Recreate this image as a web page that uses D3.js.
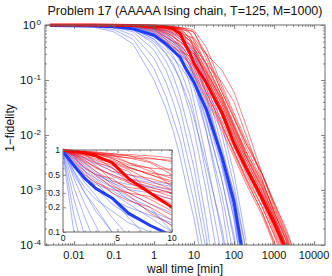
<!DOCTYPE html>
<html>
<head>
<meta charset="utf-8">
<script src="https://cdn.jsdelivr.net/npm/d3@7"></script>
<style>
  body { margin: 0; background: #fff; }
  svg { display: block; font-family: "Liberation Sans", Arial, sans-serif; }
  .axis path, .axis line { stroke: #6a6a6a; }
  .axis text { fill: #111; }
</style>
</head>
<body>
<div id="chart"></div>
<script>
// sample times [min] shared by every run
const times = [0.0025, 0.03, 0.1, 0.3, 1, 2, 3, 4.5, 6, 8, 10, 20, 50, 100, 200, 500, 1000, 2000, 5000];

// 1-fidelity of each run (null = off the chart)
const blueRuns = [
    [1, 0.92, 0.75, 0.45, 0.1, 0.03, 0.012, 0.004, 0.0015, 0.0006, 0.0003, 2e-5, null, null, null, null, null, null, null],
    [1, 0.95, 0.82, 0.55, 0.16, 0.05, 0.02, 0.008, 0.003, 0.0012, 0.0006, 4e-5, null, null, null, null, null, null, null],
    [1, 0.97, 0.88, 0.65, 0.25, 0.09, 0.04, 0.015, 0.006, 0.0025, 0.0012, 8e-5, null, null, null, null, null, null, null],
    [1, 0.98, 0.92, 0.75, 0.35, 0.15, 0.07, 0.03, 0.012, 0.005, 0.0025, 0.00015, 1e-6, null, null, null, null, null, null],
    [1, 0.99, 0.95, 0.82, 0.45, 0.22, 0.12, 0.05, 0.022, 0.01, 0.005, 0.0003, 3e-6, null, null, null, null, null, null],
    [1, 0.99, 0.96, 0.85, 0.55, 0.3, 0.2, 0.1, 0.05, 0.025, 0.012, 0.001, 2e-5, null, null, null, null, null, null],
    [1, 0.99, 0.97, 0.9, 0.62, 0.4, 0.28, 0.15, 0.09, 0.05, 0.025, 0.002, 6e-5, null, null, null, null, null, null],
    [1, 1, 0.98, 0.92, 0.7, 0.5, 0.4, 0.25, 0.15, 0.08, 0.04, 0.004, 0.00015, 5e-6, null, null, null, null, null],
    [1, 1, 0.98, 0.93, 0.72, 0.55, 0.45, 0.35, 0.27, 0.2, 0.1, 0.012, 0.0005, 2e-5, null, null, null, null, null],
    [1, 1, 0.99, 0.95, 0.8, 0.6, 0.5, 0.4, 0.33, 0.3, 0.25, 0.05, 0.003, 0.0003, 1e-5, null, null, null, null],
    [1, 1, 0.99, 0.96, 0.85, 0.7, 0.55, 0.42, 0.38, 0.35, 0.3, 0.06, 0.004, 0.0004, 1.5e-5, null, null, null, null],
    [1, 0.99, 0.97, 0.88, 0.6, 0.45, 0.38, 0.32, 0.25, 0.18, 0.12, 0.025, 0.0025, 0.0003, 1e-5, null, null, null, null],
    [1, 1, 0.99, 0.97, 0.88, 0.75, 0.62, 0.5, 0.42, 0.36, 0.33, 0.08, 0.006, 0.0008, 5e-5, null, null, null, null],
    [1, 1, 0.99, 0.94, 0.75, 0.55, 0.35, 0.25, 0.2, 0.16, 0.13, 0.03, 0.003, 0.0004, 2e-5, null, null, null, null],
    [1, 0.99, 0.96, 0.86, 0.55, 0.35, 0.25, 0.18, 0.13, 0.1, 0.07, 0.012, 0.0008, 6e-5, null, null, null, null, null],
    [1, 1, 0.99, 0.96, 0.82, 0.62, 0.5, 0.35, 0.25, 0.18, 0.14, 0.035, 0.004, 0.0006, 4e-5, null, null, null, null],
    [1, 1, 1, 0.98, 0.9, 0.78, 0.68, 0.55, 0.45, 0.4, 0.36, 0.1, 0.01, 0.0012, 8e-5, null, null, null, null],
    [1, 1, 0.99, 0.97, 0.86, 0.68, 0.52, 0.4, 0.3, 0.22, 0.17, 0.04, 0.005, 0.0009, 8e-5, null, null, null, null],
    [1, 0.98, 0.93, 0.8, 0.5, 0.3, 0.18, 0.1, 0.06, 0.035, 0.02, 0.003, 0.0002, 1e-5, null, null, null, null, null],
    [1, 1, 0.98, 0.93, 0.78, 0.6, 0.45, 0.3, 0.22, 0.15, 0.1, 0.02, 0.0015, 0.00012, 5e-6, null, null, null, null],
    [1, 1, 1, 0.98, 0.93, 0.82, 0.72, 0.6, 0.5, 0.42, 0.38, 0.12, 0.015, 0.002, 0.00012, null, null, null, null],
    [1, 0.99, 0.97, 0.9, 0.68, 0.48, 0.35, 0.22, 0.16, 0.12, 0.09, 0.018, 0.0015, 0.00015, 5e-6, null, null, null, null]
];

const redRuns = [
    [1, 1, 1, 0.99, 0.97, 0.93, 0.9, 0.87, 0.85, 0.8, 0.72, 0.3, 0.06, 0.02, 0.006, 0.0015, 0.0004, 0.00012, 2e-5],
    [1, 1, 0.99, 0.98, 0.9, 0.75, 0.6, 0.5, 0.42, 0.35, 0.3, 0.12, 0.03, 0.009, 0.003, 0.0008, 0.0003, 0.0001, 1e-5],
    [1, 1, 0.99, 0.97, 0.85, 0.6, 0.5, 0.45, 0.33, 0.25, 0.18, 0.07, 0.018, 0.006, 0.002, 0.0005, 0.00015, 4e-5, null],
    [1, 1, 1, 0.99, 0.98, 0.96, 0.92, 0.8, 0.62, 0.5, 0.4, 0.15, 0.04, 0.012, 0.004, 0.001, 0.0003, 9e-5, null],
    [1, 1, 1, 0.99, 0.95, 0.88, 0.82, 0.6, 0.45, 0.38, 0.32, 0.13, 0.035, 0.011, 0.0035, 0.0009, 0.00028, 7e-5, null],
    [1, 1, 0.99, 0.96, 0.82, 0.55, 0.42, 0.3, 0.24, 0.2, 0.14, 0.05, 0.014, 0.005, 0.0017, 0.0005, 0.00016, 5e-5, null],
    [1, 1, 1, 1, 0.99, 0.97, 0.95, 0.9, 0.85, 0.72, 0.55, 0.2, 0.05, 0.016, 0.005, 0.0013, 0.0004, 0.00013, 2e-5],
    [1, 1, 1, 0.99, 0.96, 0.9, 0.7, 0.55, 0.5, 0.45, 0.38, 0.16, 0.04, 0.013, 0.004, 0.0011, 0.00035, 0.0001, 1.5e-5],
    [1, 1, 0.99, 0.97, 0.9, 0.8, 0.7, 0.62, 0.4, 0.3, 0.25, 0.1, 0.025, 0.008, 0.0025, 0.0007, 0.0002, 6e-5, null],
    [1, 1, 1, 0.99, 0.97, 0.95, 0.93, 0.9, 0.88, 0.85, 0.8, 0.4, 0.08, 0.025, 0.008, 0.002, 0.0006, 0.00018, 3e-5],
    [1, 1, 0.99, 0.98, 0.93, 0.85, 0.75, 0.65, 0.55, 0.3, 0.22, 0.09, 0.022, 0.007, 0.0022, 0.0006, 0.00018, 5e-5, null],
    [1, 1, 0.99, 0.95, 0.75, 0.5, 0.4, 0.33, 0.3, 0.27, 0.2, 0.06, 0.016, 0.005, 0.0016, 0.0004, 0.00012, 3e-5, null],
    [1, 1, 1, 0.99, 0.98, 0.95, 0.85, 0.72, 0.6, 0.52, 0.48, 0.2, 0.05, 0.015, 0.0045, 0.0012, 0.00035, 0.0001, 1.2e-5],
    [1, 1, 0.99, 0.97, 0.88, 0.7, 0.55, 0.38, 0.28, 0.17, 0.12, 0.045, 0.012, 0.004, 0.0013, 0.00035, 0.0001, 2.5e-5, null],
    [1, 1, 1, 0.99, 0.97, 0.93, 0.88, 0.82, 0.7, 0.6, 0.35, 0.14, 0.035, 0.011, 0.0035, 0.0009, 0.0003, 8e-5, null],
    [1, 1, 1, 0.99, 0.96, 0.92, 0.9, 0.85, 0.8, 0.78, 0.75, 0.25, 0.06, 0.02, 0.007, 0.002, 0.0006, 0.0002, 3e-5],
    [1, 1, 0.99, 0.98, 0.9, 0.72, 0.62, 0.48, 0.4, 0.33, 0.27, 0.11, 0.03, 0.01, 0.003, 0.0008, 0.00025, 7e-5, null],
    [1, 1, 1, 0.98, 0.94, 0.86, 0.78, 0.7, 0.58, 0.42, 0.33, 0.12, 0.028, 0.009, 0.0028, 0.0008, 0.00024, 6e-5, null],
    [1, 1, 0.99, 0.97, 0.92, 0.8, 0.65, 0.42, 0.35, 0.32, 0.3, 0.14, 0.045, 0.014, 0.005, 0.0014, 0.00045, 0.00014, 2e-5],
    [1, 1, 1, 1, 0.98, 0.96, 0.93, 0.88, 0.7, 0.55, 0.45, 0.18, 0.045, 0.014, 0.0042, 0.0011, 0.00032, 9e-5, null],
    [1, 1, 0.99, 0.96, 0.86, 0.65, 0.48, 0.36, 0.3, 0.22, 0.16, 0.06, 0.015, 0.0045, 0.0015, 0.0004, 0.00011, 3e-5, null],
    [1, 1, 1, 0.99, 0.97, 0.94, 0.9, 0.78, 0.66, 0.6, 0.58, 0.3, 0.07, 0.022, 0.007, 0.0019, 0.00055, 0.00016, 2.5e-5],
    [1, 1, 1, 0.99, 0.97, 0.94, 0.9, 0.85, 0.8, 0.7, 0.5, 0.3, 0.15, 0.06, 0.015, 0.002, 0.0005, 0.00015, 2e-5],
    [1, 1, 1, 0.99, 0.96, 0.9, 0.83, 0.75, 0.62, 0.5, 0.42, 0.2, 0.09, 0.04, 0.01, 0.0016, 0.0004, 0.00012, 1.5e-5]
];

// thick curves: typical run of each set
const blueMean = [0.98, 0.96, 0.93, 0.85, 0.65, 0.45, 0.34, 0.26, 0.17, 0.12, 0.09, 0.03, 0.004, 0.0006, 3e-5, null, null, null, null];
const redMean = [1, 1, 0.99, 0.98, 0.96, 0.92, 0.85, 0.7, 0.45, 0.3, 0.2, 0.09, 0.025, 0.007, 0.0025, 0.0007, 0.00025, 8e-5, null];

const xTicks = [0.01, 0.1, 1, 10, 100, 1000, 10000];
const yTicks = [1e-4, 1e-3, 1e-2, 1e-1, 1];
const insetXTicks = [0, 5, 10];
const insetYTicks = [0.1, 0.2, 0.3, 0.5, 1];

const W = 332, H = 276;
const m = { left: 45, right: 325, top: 25, bottom: 245 };
const ins = { left: 63, right: 172, top: 150, bottom: 232 };

const svg = d3.select("#chart").append("svg")
    .attr("width", W)
    .attr("height", H);

const x = d3.scaleLog().domain([0.00188, 18800]).range([m.left, m.right]);
const y = d3.scaleLog().domain([1e-4, 1]).range([m.bottom, m.top]);
const xi = d3.scaleLinear().domain([0, 10]).range([ins.left, ins.right]);
const yi = d3.scaleLog().domain([0.1, 1]).range([ins.bottom, ins.top]);

function runPoints(vals) {
    return times.map((t, i) => [t, vals[i]]);
}

// minor ticks 2..9 within a log domain
function logMinors(scale) {
    const [a, b] = scale.domain();
    const out = [];
    for (let e = Math.floor(Math.log10(a)); e <= Math.ceil(Math.log10(b)); e++) {
        for (let k = 2; k <= 9; k++) {
            const v = k * Math.pow(10, e);
            if (v > a && v < b) out.push(v);
        }
    }
    return out;
}

const defs = svg.append("defs");
defs.append("clipPath").attr("id", "clip-main")
    .append("rect")
    .attr("x", m.left).attr("y", m.top - 3)
    .attr("width", m.right - m.left).attr("height", m.bottom - m.top + 3);
defs.append("clipPath").attr("id", "clip-inset")
    .append("rect")
    .attr("x", ins.left).attr("y", ins.top - 3)
    .attr("width", ins.right - ins.left).attr("height", ins.bottom - ins.top + 3);

function drawRuns(g, xs, ys) {
    const line = d3.line()
        .defined(d => d[1] != null)
        .x(d => xs(d[0]))
        .y(d => ys(d[1]));

    g.selectAll(".blue-run")
        .data(blueRuns)
        .join("path")
        .attr("class", "blue-run")
        .attr("d", d => line(runPoints(d)))
        .attr("fill", "none")
        .attr("stroke", "#5a6cff")
        .attr("stroke-opacity", 0.75)
        .attr("stroke-width", 0.7);

    g.selectAll(".red-run")
        .data(redRuns)
        .join("path")
        .attr("class", "red-run")
        .attr("d", d => line(runPoints(d)))
        .attr("fill", "none")
        .attr("stroke", "#ff0000")
        .attr("stroke-opacity", 0.7)
        .attr("stroke-width", 0.7);

    g.append("path")
        .attr("d", line(runPoints(blueMean)))
        .attr("fill", "none")
        .attr("stroke", "#1f3cff")
        .attr("stroke-width", 3)
        .attr("stroke-linejoin", "round");

    g.append("path")
        .attr("d", line(runPoints(redMean)))
        .attr("fill", "none")
        .attr("stroke", "#ff0000")
        .attr("stroke-width", 3)
        .attr("stroke-linejoin", "round");
}

// Main panel
svg.append("rect")
    .attr("x", m.left).attr("y", m.top)
    .attr("width", m.right - m.left).attr("height", m.bottom - m.top)
    .attr("fill", "#fff");

drawRuns(svg.append("g").attr("clip-path", "url(#clip-main)"), x, y);

// Axes, MATLAB style: box with inward ticks on all sides
function boxAxes(xs, ys, b, xMaj, xMin, yMaj, yMin, majLen, minLen) {
    const g = svg.append("g").attr("class", "axis");
    const addX = (vals, len, top) => g.append("g")
        .attr("transform", `translate(0,${top ? b.top : b.bottom})`)
        .call((top ? d3.axisTop(xs) : d3.axisBottom(xs)).tickValues(vals).tickSize(-len).tickFormat(""))
        .call(a => a.select(".domain").remove());
    const addY = (vals, len, right) => g.append("g")
        .attr("transform", `translate(${right ? b.right : b.left},0)`)
        .call((right ? d3.axisRight(ys) : d3.axisLeft(ys)).tickValues(vals).tickSize(-len).tickFormat(""))
        .call(a => a.select(".domain").remove());
    [false, true].forEach(side => {
        addX(xMaj, majLen, side);
        addX(xMin, minLen, side);
        addY(yMaj, majLen, side);
        addY(yMin, minLen, side);
    });
    g.append("rect")
        .attr("x", b.left).attr("y", b.top)
        .attr("width", b.right - b.left).attr("height", b.bottom - b.top)
        .attr("fill", "none")
        .attr("stroke", "#6a6a6a")
        .attr("stroke-width", 1);
    g.selectAll("line").attr("stroke-width", 0.8);
    return g;
}

boxAxes(x, y, m, xTicks, logMinors(x), yTicks, logMinors(y), 4, 2);

// Main tick labels
svg.append("g")
    .selectAll("text")
    .data(xTicks)
    .join("text")
    .attr("x", d => x(d))
    .attr("y", m.bottom + 14)
    .attr("text-anchor", "middle")
    .attr("font-size", "11px")
    .attr("fill", "#111")
    .text(d => d3.format("~g")(d));

const yLab = svg.append("g")
    .selectAll("text")
    .data(yTicks)
    .join("text")
    .attr("x", m.left - 4)
    .attr("y", d => y(d) + 4)
    .attr("text-anchor", "end")
    .attr("font-size", "11.5px")
    .attr("fill", "#111")
    .text("10");
yLab.append("tspan")
    .attr("dy", "-0.55em")
    .attr("dx", "1px")
    .attr("font-size", "8px")
    .text(d => {
        const e = Math.round(Math.log10(d));
        return e === 0 ? "0" : "-" + Math.abs(e);
    });

// Title and axis labels
svg.append("text")
    .attr("x", (m.left + m.right) / 2)
    .attr("y", 15)
    .attr("text-anchor", "middle")
    .attr("font-size", "12.5px")
    .attr("fill", "#111")
    .text("Problem 17 (AAAAA Ising chain, T=125, M=1000)");

svg.append("text")
    .attr("x", (m.left + m.right) / 2)
    .attr("y", 273)
    .attr("text-anchor", "middle")
    .attr("font-size", "12px")
    .attr("fill", "#111")
    .text("wall time [min]");

svg.append("text")
    .attr("transform", "translate(14,128) rotate(-90)")
    .attr("text-anchor", "middle")
    .attr("font-size", "12px")
    .attr("fill", "#111")
    .text("1\u2212fidelity");

// Inset: first ten minutes on a linear time axis
svg.append("rect")
    .attr("x", ins.left).attr("y", ins.top)
    .attr("width", ins.right - ins.left).attr("height", ins.bottom - ins.top)
    .attr("fill", "#fff");

drawRuns(svg.append("g").attr("clip-path", "url(#clip-inset)"), xi, yi);

boxAxes(xi, yi, ins, insetXTicks, [1, 2, 3, 4, 6, 7, 8, 9], insetYTicks, [0.4, 0.6, 0.7, 0.8, 0.9], 3, 1.5);

svg.append("g")
    .selectAll("text")
    .data(insetXTicks)
    .join("text")
    .attr("x", d => xi(d))
    .attr("y", ins.bottom + 9)
    .attr("text-anchor", "middle")
    .attr("font-size", "8.5px")
    .attr("fill", "#111")
    .text(d => d);

svg.append("g")
    .selectAll("text")
    .data(insetYTicks)
    .join("text")
    .attr("x", ins.left - 3)
    .attr("y", d => yi(d) + 3)
    .attr("text-anchor", "end")
    .attr("font-size", "8.5px")
    .attr("fill", "#111")
    .text(d => d);
</script>
</body>
</html>
